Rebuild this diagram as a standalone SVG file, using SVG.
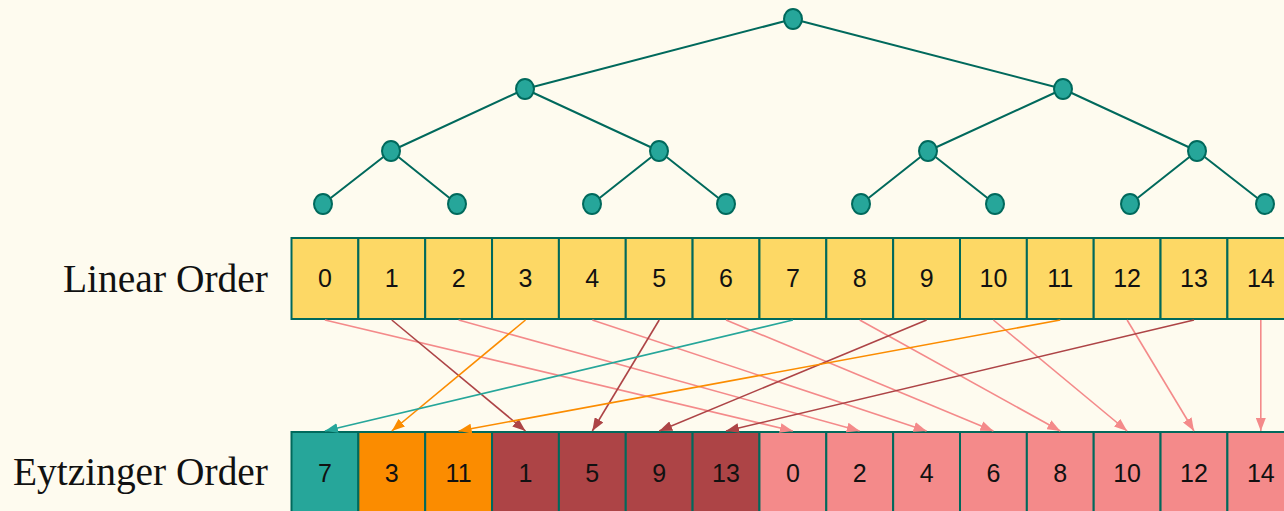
<svg xmlns="http://www.w3.org/2000/svg" width="1284" height="511" viewBox="0 0 1284 511">
  <style>
    .edge { stroke: #00695C; stroke-width: 2; fill: none; }
    .node { fill: #26A69A; stroke: #00695C; stroke-width: 2; }
    .cell { stroke: #00695C; stroke-width: 2; }
    .lin { fill: #FDD865; }
    .root { fill: #26A69A; }
    .l2 { fill: #FB8C00; }
    .l3 { fill: #AD4446; }
    .leaf { fill: #F48A8A; }
    .num { font-family: "Liberation Sans", Arial, sans-serif; font-size: 25px; fill: #111; text-anchor: middle; }
    .title { font-family: "Liberation Serif", "Times New Roman", serif; font-size: 39px; fill: #111; }
    .c-root { stroke: #26A69A; }
    .c-l2 { stroke: #FB8C00; }
    .c-l3 { stroke: #AD4446; }
    .c-leaf { stroke: #F48A8A; }
    .arrow { stroke-width: 1.6; fill: none; }
  </style>
  <defs>
    <marker id="ah-root" markerUnits="userSpaceOnUse" markerWidth="14" markerHeight="10" refX="13" refY="5" orient="auto">
      <path d="M0,0 L13,5 L0,10 Z" fill="#26A69A"/>
    </marker>
    <marker id="ah-l2" markerUnits="userSpaceOnUse" markerWidth="14" markerHeight="10" refX="13" refY="5" orient="auto">
      <path d="M0,0 L13,5 L0,10 Z" fill="#FB8C00"/>
    </marker>
    <marker id="ah-l3" markerUnits="userSpaceOnUse" markerWidth="14" markerHeight="10" refX="13" refY="5" orient="auto">
      <path d="M0,0 L13,5 L0,10 Z" fill="#AD4446"/>
    </marker>
    <marker id="ah-leaf" markerUnits="userSpaceOnUse" markerWidth="14" markerHeight="10" refX="13" refY="5" orient="auto">
      <path d="M0,0 L13,5 L0,10 Z" fill="#F48A8A"/>
    </marker>
  </defs>

  <rect x="0" y="0" width="1284" height="511" fill="#FEFBEF"/>

  <!-- binary search tree -->
  <g id="tree-edges">
    <path class="edge" d="M793,19 L525,89 M793,19 L1063,89"/>
    <path class="edge" d="M525,89 L391,151 M525,89 L659,151 M1063,89 L928,151 M1063,89 L1197,151"/>
    <path class="edge" d="M391,151 L323,204 M391,151 L457,204 M659,151 L592,204 M659,151 L726,204"/>
    <path class="edge" d="M928,151 L861,204 M928,151 L995,204 M1197,151 L1130,204 M1197,151 L1265,204"/>
  </g>
  <g id="tree-node-7"><ellipse class="node" cx="793" cy="19" rx="9" ry="10"/></g>
  <g id="tree-node-3"><ellipse class="node" cx="525" cy="89" rx="9" ry="10"/></g>
  <g id="tree-node-11"><ellipse class="node" cx="1063" cy="89" rx="9" ry="10"/></g>
  <g id="tree-node-1"><ellipse class="node" cx="391" cy="151" rx="9" ry="10"/></g>
  <g id="tree-node-5"><ellipse class="node" cx="659" cy="151" rx="9" ry="10"/></g>
  <g id="tree-node-9"><ellipse class="node" cx="928" cy="151" rx="9" ry="10"/></g>
  <g id="tree-node-13"><ellipse class="node" cx="1197" cy="151" rx="9" ry="10"/></g>
  <g id="tree-node-0"><ellipse class="node" cx="323" cy="204" rx="9" ry="10"/></g>
  <g id="tree-node-2"><ellipse class="node" cx="457" cy="204" rx="9" ry="10"/></g>
  <g id="tree-node-4"><ellipse class="node" cx="592" cy="204" rx="9" ry="10"/></g>
  <g id="tree-node-6"><ellipse class="node" cx="726" cy="204" rx="9" ry="10"/></g>
  <g id="tree-node-8"><ellipse class="node" cx="861" cy="204" rx="9" ry="10"/></g>
  <g id="tree-node-10"><ellipse class="node" cx="995" cy="204" rx="9" ry="10"/></g>
  <g id="tree-node-12"><ellipse class="node" cx="1130" cy="204" rx="9" ry="10"/></g>
  <g id="tree-node-14"><ellipse class="node" cx="1265" cy="204" rx="9" ry="10"/></g>

  <!-- row labels -->
  <text class="title" x="63" y="292" textLength="205" lengthAdjust="spacingAndGlyphs">Linear Order</text>
  <text class="title" x="13" y="485" textLength="255" lengthAdjust="spacingAndGlyphs">Eytzinger Order</text>

  <!-- linear order array -->
  <g id="linear-0"><rect class="cell lin" x="291.5" y="238" width="66.85" height="81"/><text class="num" x="324.9" y="287">0</text></g>
  <g id="linear-1"><rect class="cell lin" x="358.35" y="238" width="66.85" height="81"/><text class="num" x="391.8" y="287">1</text></g>
  <g id="linear-2"><rect class="cell lin" x="425.2" y="238" width="66.85" height="81"/><text class="num" x="458.6" y="287">2</text></g>
  <g id="linear-3"><rect class="cell lin" x="492.05" y="238" width="66.85" height="81"/><text class="num" x="525.5" y="287">3</text></g>
  <g id="linear-4"><rect class="cell lin" x="558.9" y="238" width="66.85" height="81"/><text class="num" x="592.3" y="287">4</text></g>
  <g id="linear-5"><rect class="cell lin" x="625.75" y="238" width="66.85" height="81"/><text class="num" x="659.2" y="287">5</text></g>
  <g id="linear-6"><rect class="cell lin" x="692.6" y="238" width="66.85" height="81"/><text class="num" x="726" y="287">6</text></g>
  <g id="linear-7"><rect class="cell lin" x="759.45" y="238" width="66.85" height="81"/><text class="num" x="792.9" y="287">7</text></g>
  <g id="linear-8"><rect class="cell lin" x="826.3" y="238" width="66.85" height="81"/><text class="num" x="859.7" y="287">8</text></g>
  <g id="linear-9"><rect class="cell lin" x="893.15" y="238" width="66.85" height="81"/><text class="num" x="926.6" y="287">9</text></g>
  <g id="linear-10"><rect class="cell lin" x="960" y="238" width="66.85" height="81"/><text class="num" x="993.4" y="287">10</text></g>
  <g id="linear-11"><rect class="cell lin" x="1026.85" y="238" width="66.85" height="81"/><text class="num" x="1060.3" y="287">11</text></g>
  <g id="linear-12"><rect class="cell lin" x="1093.7" y="238" width="66.85" height="81"/><text class="num" x="1127.1" y="287">12</text></g>
  <g id="linear-13"><rect class="cell lin" x="1160.55" y="238" width="66.85" height="81"/><text class="num" x="1194" y="287">13</text></g>
  <g id="linear-14"><rect class="cell lin" x="1227.4" y="238" width="66.85" height="81"/><text class="num" x="1260.8" y="287">14</text></g>

  <!-- eytzinger order array -->
  <g id="eytz-7"><rect class="cell root" x="291.5" y="432" width="66.85" height="81"/><text class="num" x="324.9" y="482">7</text></g>
  <g id="eytz-3"><rect class="cell l2" x="358.35" y="432" width="66.85" height="81"/><text class="num" x="391.8" y="482">3</text></g>
  <g id="eytz-11"><rect class="cell l2" x="425.2" y="432" width="66.85" height="81"/><text class="num" x="458.6" y="482">11</text></g>
  <g id="eytz-1"><rect class="cell l3" x="492.05" y="432" width="66.85" height="81"/><text class="num" x="525.5" y="482">1</text></g>
  <g id="eytz-5"><rect class="cell l3" x="558.9" y="432" width="66.85" height="81"/><text class="num" x="592.3" y="482">5</text></g>
  <g id="eytz-9"><rect class="cell l3" x="625.75" y="432" width="66.85" height="81"/><text class="num" x="659.2" y="482">9</text></g>
  <g id="eytz-13"><rect class="cell l3" x="692.6" y="432" width="66.85" height="81"/><text class="num" x="726" y="482">13</text></g>
  <g id="eytz-0"><rect class="cell leaf" x="759.45" y="432" width="66.85" height="81"/><text class="num" x="792.9" y="482">0</text></g>
  <g id="eytz-2"><rect class="cell leaf" x="826.3" y="432" width="66.85" height="81"/><text class="num" x="859.7" y="482">2</text></g>
  <g id="eytz-4"><rect class="cell leaf" x="893.15" y="432" width="66.85" height="81"/><text class="num" x="926.6" y="482">4</text></g>
  <g id="eytz-6"><rect class="cell leaf" x="960" y="432" width="66.85" height="81"/><text class="num" x="993.4" y="482">6</text></g>
  <g id="eytz-8"><rect class="cell leaf" x="1026.85" y="432" width="66.85" height="81"/><text class="num" x="1060.3" y="482">8</text></g>
  <g id="eytz-10"><rect class="cell leaf" x="1093.7" y="432" width="66.85" height="81"/><text class="num" x="1127.1" y="482">10</text></g>
  <g id="eytz-12"><rect class="cell leaf" x="1160.55" y="432" width="66.85" height="81"/><text class="num" x="1194" y="482">12</text></g>
  <g id="eytz-14"><rect class="cell leaf" x="1227.4" y="432" width="66.85" height="81"/><text class="num" x="1260.8" y="482">14</text></g>

  <!-- mapping from linear positions to eytzinger positions -->
  <g id="connectors">
    <line class="arrow c-leaf" x1="324.9" y1="320" x2="792.9" y2="431" marker-end="url(#ah-leaf)"/>
    <line class="arrow c-leaf" x1="458.6" y1="320" x2="859.7" y2="431" marker-end="url(#ah-leaf)"/>
    <line class="arrow c-leaf" x1="592.3" y1="320" x2="926.6" y2="431" marker-end="url(#ah-leaf)"/>
    <line class="arrow c-leaf" x1="726" y1="320" x2="993.4" y2="431" marker-end="url(#ah-leaf)"/>
    <line class="arrow c-leaf" x1="859.7" y1="320" x2="1060.3" y2="431" marker-end="url(#ah-leaf)"/>
    <line class="arrow c-leaf" x1="993.4" y1="320" x2="1127.1" y2="431" marker-end="url(#ah-leaf)"/>
    <line class="arrow c-leaf" x1="1127.1" y1="320" x2="1194" y2="431" marker-end="url(#ah-leaf)"/>
    <line class="arrow c-leaf" x1="1260.8" y1="320" x2="1260.8" y2="431" marker-end="url(#ah-leaf)"/>
    <line class="arrow c-l3" x1="391.8" y1="320" x2="525.5" y2="431" marker-end="url(#ah-l3)"/>
    <line class="arrow c-l3" x1="659.2" y1="320" x2="592.3" y2="431" marker-end="url(#ah-l3)"/>
    <line class="arrow c-l3" x1="926.6" y1="320" x2="659.2" y2="431" marker-end="url(#ah-l3)"/>
    <line class="arrow c-l3" x1="1194" y1="320" x2="726" y2="431" marker-end="url(#ah-l3)"/>
    <line class="arrow c-l2" x1="525.5" y1="320" x2="391.8" y2="431" marker-end="url(#ah-l2)"/>
    <line class="arrow c-l2" x1="1060.3" y1="320" x2="458.6" y2="431" marker-end="url(#ah-l2)"/>
    <line class="arrow c-root" x1="792.9" y1="320" x2="324.9" y2="431" marker-end="url(#ah-root)"/>
  </g>
</svg>
